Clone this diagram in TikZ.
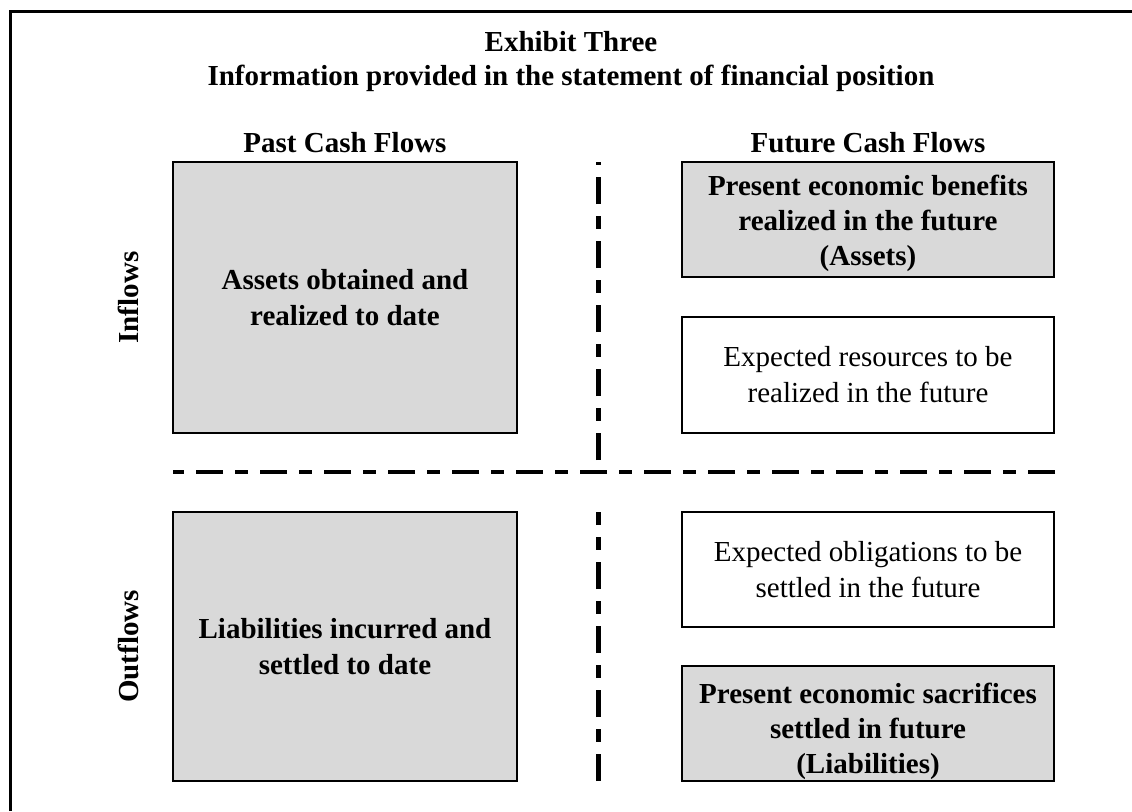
\documentclass[tikz,border=0pt]{standalone}
\usepackage{fontspec}
\setmainfont{Liberation Serif}
\definecolor{boxgray}{RGB}{217,217,217}

\begin{document}
\begin{tikzpicture}[x=1pt,y=-1pt,
    cell/.style={draw, line width=2.5pt, align=center, inner sep=0pt, font=\fontsize{29}{36}\selectfont},
    shaded/.style={cell, fill=boxgray, font=\fontsize{29}{36}\selectfont\bfseries},
    celltext/.style={align=center, inner sep=0pt, font=\fontsize{29}{35}\selectfont\bfseries},
    divider/.style={line width=4.5pt, dash pattern=on 27.5pt off 12pt on 12.5pt off 12pt},
    head/.style={font=\fontsize{29}{36}\selectfont\bfseries, anchor=base, inner sep=0pt}]
  \useasboundingbox (0,0) rectangle (1132,811);
  \draw[line width=3pt] (10,811) -- (10,11) -- (1132,11);

  \node[head] (exhibit) at (571,51.5) {Exhibit Three};
  \node[head] (info) at (571,85.5) {Information provided in the statement of financial position};
  \node[head] (past) at (345,152.5) {Past Cash Flows};
  \node[head] (future) at (868,152.5) {Future Cash Flows};
  \node[head, anchor=center, rotate=90] (inflows) at (128,297.5) {Inflows};
  \node[head, anchor=center, rotate=90] (outflows) at (128,646.5) {Outflows};

  \node[shaded, minimum width=344pt, minimum height=271pt] (pastIn) at (345,297.5) {Assets obtained and\\realized to date};
  \node[shaded, minimum width=372pt, minimum height=115pt] (futAssets) at (868,219.5) {};
  \node[celltext] (futAssetsText) at ([yshift=-4pt]futAssets.center) {Present economic benefits\\realized in the future\\(Assets)};
  \node[cell, minimum width=372pt, minimum height=116pt] (futExpIn) at (868,375) {Expected resources to be\\realized in the future};
  \node[shaded, minimum width=344pt, minimum height=269pt] (pastOut) at (345,646.5) {Liabilities incurred and\\settled to date};
  \node[cell, minimum width=372pt, minimum height=115pt] (futExpOut) at (868,569.5) {Expected obligations to be\\settled in the future};
  \node[shaded, minimum width=372pt, minimum height=115pt] (futLiab) at (868,723.5) {};
  \node[celltext] (futLiabText) at ([yshift=-8pt]futLiab.center) {Present economic sacrifices\\settled in future\\(Liabilities)};

  \draw[divider] (598.5,460) -- (598.5,162);
  \draw[divider] (598.5,781) -- (598.5,512);
  \draw[divider] (1055,472) -- (173,472);
\end{tikzpicture}
\end{document}
